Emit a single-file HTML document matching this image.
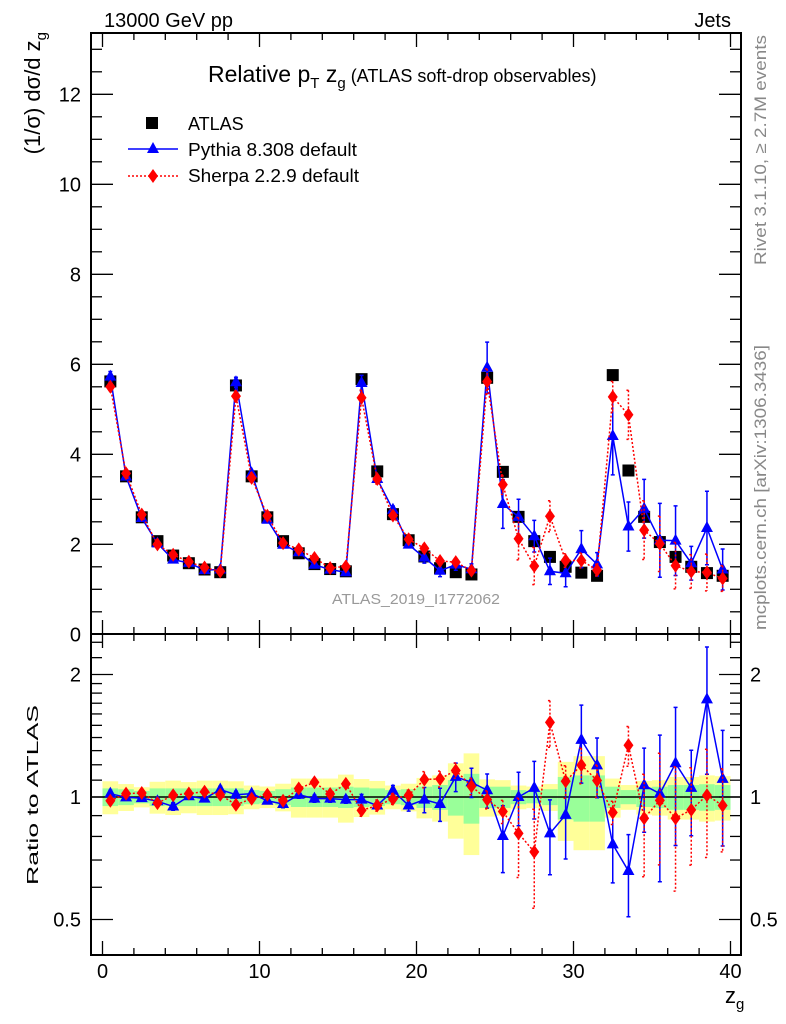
<!DOCTYPE html>
<html><head><meta charset="utf-8"><style>
html,body{margin:0;padding:0;background:#fff}
svg{display:block;font-family:"Liberation Sans",sans-serif}
</style></head><body>
<svg id="c" width="786" height="1024" viewBox="0 0 786 1024" xmlns="http://www.w3.org/2000/svg">
<rect x="0" y="0" width="786" height="1024" fill="#fff"/>
<g id="bands"></g>
<g id="grid"></g>
<g id="marks"></g>
<rect x="91" y="33" width="650" height="601" fill="none" stroke="#000" stroke-width="2"/>
<rect x="91" y="634" width="650" height="321" fill="none" stroke="#000" stroke-width="2"/>
<text x="104" y="27" font-size="20">13000 GeV pp</text>
<text x="731" y="27" font-size="20" text-anchor="end">Jets</text>
<text x="208" y="82" font-size="23">Relative p<tspan font-size="15" dy="6">T</tspan><tspan dy="-6"> z</tspan><tspan font-size="15" dy="6">g</tspan><tspan dy="-6" font-size="18"> (ATLAS soft-drop observables)</tspan></text>
<text transform="translate(40,32) rotate(-90)" font-size="22" text-anchor="end">(1/σ) dσ/d z<tspan font-size="15" dy="6">g</tspan></text>
<text transform="translate(38,885) rotate(-90)" font-size="16" textLength="180" lengthAdjust="spacingAndGlyphs">Ratio to ATLAS</text>
<text x="725" y="1003" font-size="22">z<tspan font-size="15" dy="6">g</tspan></text>
<text transform="translate(766,265) rotate(-90)" font-size="17" fill="#888" textLength="230" lengthAdjust="spacingAndGlyphs">Rivet 3.1.10, ≥ 2.7M events</text>
<text transform="translate(766,630) rotate(-90)" font-size="17" fill="#888" textLength="285" lengthAdjust="spacingAndGlyphs">mcplots.cern.ch [arXiv:1306.3436]</text>
<text x="332" y="604" font-size="15" fill="#999" textLength="168" lengthAdjust="spacingAndGlyphs">ATLAS_2019_I1772062</text>
<g id="legend">
<rect x="146" y="117" width="12" height="12" fill="#000"/>
<text x="188" y="130" font-size="18">ATLAS</text>
<line x1="128" y1="149" x2="178" y2="149" stroke="#00f" stroke-width="1.5"/>
<polygon points="153,142 159,153 147,153" fill="#00f"/>
<text x="188" y="156" font-size="18" textLength="169" lengthAdjust="spacingAndGlyphs">Pythia 8.308 default</text>
<line x1="128" y1="176" x2="178" y2="176" stroke="#f00" stroke-width="1.5" stroke-dasharray="2,2"/>
<polygon points="153,169 158,176 153,183 148,176" fill="#f00"/>
<text x="188" y="182" font-size="18" textLength="171" lengthAdjust="spacingAndGlyphs">Sherpa 2.2.9 default</text>
</g>
</svg>
<script>
const binCenters=[];for(let i=0;i<40;i++)binCenters.push(i+0.5);
const atlas=[5.62,3.51,2.6,2.07,1.75,1.58,1.44,1.38,5.53,3.51,2.6,2.07,1.8,1.56,1.45,1.4,5.67,3.62,2.67,2.09,1.73,1.47,1.38,1.33,5.70,3.61,2.61,2.07,1.72,1.50,1.37,1.30,5.76,3.64,2.61,2.05,1.72,1.50,1.36,1.30];
const atlasTotErr=[0.093,0.076,0.057,0.09,0.097,0.088,0.097,0.097,0.093,0.067,0.061,0.078,0.11,0.11,0.11,0.135,0.107,0.095,0.067,0.078,0.114,0.13,0.21,0.28,0.105,0.1,0.067,0.061,0.076,0.22,0.26,0.26,0.11,0.07,0.095,0.1,0.12,0.12,0.13,0.125];
const atlasStatErr=[0.05,0.045,0.035,0.05,0.05,0.05,0.05,0.05,0.05,0.04,0.035,0.045,0.055,0.055,0.055,0.06,0.055,0.05,0.04,0.045,0.06,0.07,0.1,0.14,0.06,0.06,0.04,0.035,0.045,0.12,0.13,0.13,0.06,0.04,0.055,0.06,0.07,0.07,0.075,0.07];
const pythiaRatio=[1.019,0.998,0.994,0.976,0.948,1.004,0.991,1.043,1.013,1.019,0.979,0.961,1.013,0.991,0.991,0.985,0.985,0.953,1.037,0.953,0.985,0.961,1.121,1.087,1.039,0.802,1.0,1.053,0.814,0.904,1.382,1.196,0.765,0.658,1.069,1.019,1.21,1.053,1.737,1.108];
const pythiaErr=[0.02,0.015,0.015,0.015,0.02,0.015,0.015,0.02,0.02,0.015,0.015,0.02,0.02,0.02,0.02,0.02,0.03,0.02,0.03,0.03,0.07,0.09,0.09,0.09,0.1,0.15,0.15,0.17,0.17,0.2,0.3,0.2,0.15,0.15,0.25,0.4,0.45,0.25,0.6,0.35];
const sherpaRatio=[0.979,1.019,1.023,0.966,1.01,1.02,1.03,1.013,0.957,0.99,1.013,0.979,1.049,1.087,1.017,1.077,0.927,0.953,0.989,1.01,1.104,1.108,1.162,1.063,0.985,0.921,0.814,0.733,1.525,1.093,1.198,1.098,0.916,1.34,0.887,0.981,0.887,0.93,1.01,0.953];
const sherpaErr=[0.015,0.015,0.015,0.015,0.015,0.015,0.015,0.015,0.02,0.015,0.015,0.015,0.02,0.02,0.02,0.02,0.03,0.03,0.03,0.03,0.05,0.05,0.05,0.05,0.05,0.06,0.18,0.2,0.2,0.1,0.12,0.1,0.06,0.15,0.25,0.3,0.3,0.25,0.3,0.22];
const mainTicks=[0,2,4,6,8,10,12];
const xTicks=[0,10,20,30,40];
const ratioTicks=[0.5,1,2];

const NS="http://www.w3.org/2000/svg";
const X0=91,X1=741,MT=33,MB=634,RT=634,RB=955;
const sx=v=>102.5+15.7*v;
const sy=v=>634.3-45*v;
const ry=r=>797-122.5*Math.log2(r);
function mk(tag,attrs,parent){const e=document.createElementNS(NS,tag);for(const k in attrs)e.setAttribute(k,attrs[k]);parent.appendChild(e);return e;}
const bands=document.getElementById('bands'),grid=document.getElementById('grid'),marks=document.getElementById('marks');
const clipR=v=>Math.max(RT+1,Math.min(RB-1,v));

for(let i=0;i<40;i++){
  const a=sx(i),b=sx(i+1);
  let t=clipR(ry(1+atlasTotErr[i])),btm=clipR(ry(Math.max(0.05,1-atlasTotErr[i])));
  const yb=mk('rect',{x:a,y:t,width:b-a,height:btm-t,fill:'#ffff99'},bands);
  
  
  t=ry(1+atlasStatErr[i]);btm=ry(1-atlasStatErr[i]);
  const gb=mk('rect',{x:a,y:t,width:b-a,height:btm-t,fill:'#99ff99'},bands);
  
  
}
const one=mk('line',{x1:X0,x2:X1,y1:ry(1),y2:ry(1),stroke:'#000','stroke-width':1.5},bands);



for(let v=0;v<=40;v+=2){
  const major=xTicks.includes(v),L=major?14:7,x=sx(v);
  [[MB,-1],[MT,1],[RB,-1],[RT,1]].forEach(([y,d])=>{mk('line',{x1:x,x2:x,y1:y,y2:y+d*L,stroke:'#000','stroke-width':1.3},grid);});
}
xTicks.forEach(v=>{const t=mk('text',{x:sx(v),y:978,'font-size':20,'text-anchor':'middle'},grid);t.textContent=v;

});
for(let v=0;v<=13;v+=0.5){
  const major=mainTicks.includes(v),L=major?22:11,y=sy(v);if(y<MT)continue;
  mk('line',{x1:X0,x2:X0+L,y1:y,y2:y,stroke:'#000','stroke-width':1.3},grid);
  mk('line',{x1:X1,x2:X1-L,y1:y,y2:y,stroke:'#000','stroke-width':1.3},grid);
}
mainTicks.forEach(v=>{const t=mk('text',{x:81,y:sy(v)+7,'font-size':20,'text-anchor':'end'},grid);t.textContent=v;

});
const rminor=[0.5,0.6,0.7,0.8,0.9,1,1.1,1.2,1.3,1.4,1.5,1.6,1.7,1.8,1.9,2,2.2,2.4];
rminor.forEach(v=>{const major=ratioTicks.includes(v),L=major?22:11,y=ry(v);
  mk('line',{x1:X0,x2:X0+L,y1:y,y2:y,stroke:'#000','stroke-width':1.3},grid);
  mk('line',{x1:X1,x2:X1-L,y1:y,y2:y,stroke:'#000','stroke-width':1.3},grid);});
ratioTicks.forEach(v=>{[[81,'end'],[750,'start']].forEach(([x,a])=>{const t=mk('text',{x:x,y:ry(v)+7,'font-size':20,'text-anchor':a},grid);t.textContent=v;

});});

function series(ratio,err,color,dash,shape,name){
  const mainPts=[],rPts=[];
  for(let i=0;i<40;i++){
    const x=sx(binCenters[i]);
    const v=atlas[i]*ratio[i],e=atlas[i]*err[i];
    mainPts.push([x,sy(v),sy(v+e),sy(v-e)]);
    rPts.push([x,ry(ratio[i]),clipR(ry(ratio[i]+err[i])),clipR(ry(Math.max(0.05,ratio[i]-err[i])))]);
  }
  [mainPts,rPts].forEach((pts,k)=>{
    const pl=mk('polyline',{points:pts.map(p=>p[0]+','+p[1]).join(' '),fill:'none',stroke:color,'stroke-width':1.5,'stroke-dasharray':dash},marks);
    
    
    pts.forEach(p=>{
      const eb=mk('path',{d:`M${p[0]},${p[2]}V${p[3]}M${p[0]-2},${p[2]}H${p[0]+2}M${p[0]-2},${p[3]}H${p[0]+2}`,stroke:color,'stroke-width':1.5,'stroke-dasharray':dash,fill:'none'},marks);
      
      
      let m;
      if(shape==='tri') m=mk('polygon',{points:`${p[0]},${p[1]-7} ${p[0]+6},${p[1]+4} ${p[0]-6},${p[1]+4}`,fill:color},marks);
      else m=mk('polygon',{points:`${p[0]},${p[1]-7} ${p[0]+5},${p[1]} ${p[0]},${p[1]+7} ${p[0]-5},${p[1]}`,fill:color},marks);
      
      
    });
  });
}
for(let i=0;i<40;i++){
  const s=mk('rect',{x:sx(binCenters[i])-6,y:sy(atlas[i])-6,width:12,height:12,fill:'#000'},marks);
  
  
}
series(pythiaRatio,pythiaErr,'#0000ff','none','tri','pythia');
series(sherpaRatio,sherpaErr,'#ff0000','2,2','dia','sherpa');
</script>
</body></html>
